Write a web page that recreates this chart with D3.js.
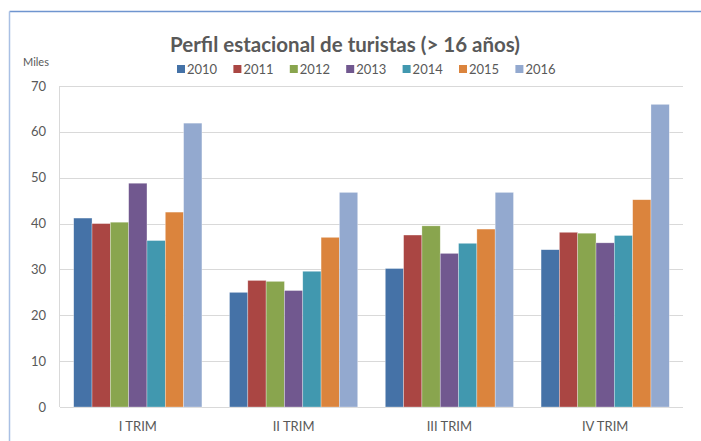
<!DOCTYPE html>
<html>
<head>
<meta charset="utf-8">
<script src="https://cdn.jsdelivr.net/npm/d3@7"></script>
<style>
  body { margin: 0; background: #fff; }
  text { font-family: Lato, "Open Sans", sans-serif; fill: #595959; }
</style>
</head>
<body>
<svg id="chart" width="701" height="441"></svg>
<script>
// data
let quarters = ["I TRIM", "II TRIM", "III TRIM", "IV TRIM"]
let years = ["2010", "2011", "2012", "2013", "2014", "2015", "2016"]
let colors = ["#4572A7", "#AA4643", "#89A54E", "#71588F", "#4198AF", "#DB843D", "#93A9CF"]
let v2010 = [41.2, 25.0, 30.2, 34.3]
let v2011 = [40.0, 27.6, 37.5, 38.1]
let v2012 = [40.3, 27.4, 39.5, 37.9]
let v2013 = [48.8, 25.4, 33.5, 35.8]
let v2014 = [36.3, 29.6, 35.7, 37.4]
let v2015 = [42.5, 37.0, 38.8, 45.2]
let v2016 = [61.9, 46.8, 46.8, 66.0]
let yTicks = [0, 10, 20, 30, 40, 50, 60, 70]

let series = [v2010, v2011, v2012, v2013, v2014, v2015, v2016]

let svg = d3.select("#chart")

// frame
svg.append("line").attr("x1", 9.5).attr("x2", 701).attr("y1", 11.5).attr("y2", 11.5)
    .attr("stroke", "#6f95cf").attr("stroke-width", 1.5)
svg.append("line").attr("x1", 9.5).attr("x2", 9.5).attr("y1", 11.5).attr("y2", 441)
    .attr("stroke", "#a9c0e4").attr("stroke-width", 1.5)

let plotLeft = 60, plotRight = 683, plotTop = 86, plotBottom = 407

let x = d3.scaleBand().domain(quarters).range([plotLeft, plotRight]).paddingInner(0.177).paddingOuter(0.088)
let xs = d3.scaleBand().domain(years).range([0, x.bandwidth()])
let y = d3.scaleLinear().domain([0, 70]).range([plotBottom, plotTop])

// gridlines
svg.append("g").selectAll("line")
    .data(yTicks).enter()
    .append("line")
    .attr("x1", plotLeft).attr("x2", plotRight)
    .attr("y1", d => Math.round(y(d)) + 0.5).attr("y2", d => Math.round(y(d)) + 0.5)
    .attr("stroke", "#d9d9d9").attr("stroke-width", 1)

svg.append("line").attr("x1", plotLeft - 0.5).attr("x2", plotLeft - 0.5).attr("y1", plotTop).attr("y2", plotBottom)
    .attr("stroke", "#d9d9d9")

// y labels
svg.append("g").selectAll("text")
    .data(yTicks).enter()
    .append("text")
    .attr("x", 46).attr("y", d => y(d))
    .attr("dy", "0.35em")
    .attr("text-anchor", "end")
    .style("font-size", "13px")
    .text(d => d)

svg.append("text").attr("x", 23).attr("y", 62).attr("dy", "0.35em")
    .style("font-size", "11px").text("Miles")

// bars
svg.append("g").selectAll("g")
    .data(series).enter()
    .append("g")
    .attr("fill", (d, i) => colors[i])
    .attr("transform", (d, i) => "translate(" + xs(years[i]) + ",0)")
    .selectAll("rect")
    .data(d => d)
    .enter()
    .append("rect")
    .attr("x", (d, i) => x(quarters[i]))
    .attr("y", d => y(d))
    .attr("width", xs.bandwidth())
    .attr("height", d => plotBottom - y(d))
    .attr("stroke", "#ffffff").attr("stroke-opacity", 0.5).attr("stroke-width", 0.6)

// x labels
svg.append("g").selectAll("text")
    .data(quarters).enter()
    .append("text")
    .attr("x", d => x(d) + x.bandwidth() / 2)
    .attr("y", 426)
    .attr("dy", "0.35em")
    .attr("text-anchor", "middle")
    .style("font-size", "13px")
    .text(d => d)

// title
svg.append("text").attr("x", 345).attr("y", 52)
    .attr("text-anchor", "middle")
    .style("font-size", "20.5px").style("font-weight", "bold")
    .text("Perfil estacional de turistas (> 16 años)")

// legend
let legend = svg.append("g").selectAll("g")
    .data(years).enter()
    .append("g")
    .attr("transform", (d, i) => "translate(" + (177 + i * 56.4) + ",69)")
legend.append("rect").attr("x", 0).attr("y", -4).attr("width", 8).attr("height", 8)
    .attr("fill", (d, i) => colors[i])
legend.append("text").attr("x", 10).attr("y", 0).attr("dy", "0.35em")
    .style("font-size", "13px").text(d => d)
</script>
</body>
</html>
